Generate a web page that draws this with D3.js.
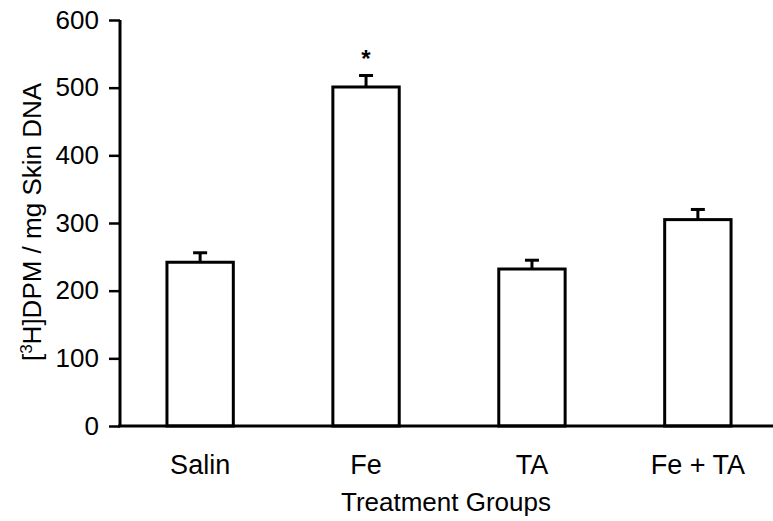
<!DOCTYPE html>
<html>
<head>
<meta charset="utf-8">
<script src="https://cdn.jsdelivr.net/npm/d3@7"></script>
<style>
  body { margin: 0; background: #fff; }
  text { font-family: "Liberation Sans", Arial, sans-serif; fill: #000; }
</style>
</head>
<body>
<svg id="chart" width="773" height="521"></svg>
<script>
// datos
const groups = ["Salin", "Fe", "TA", "Fe + TA"];
const means = [242, 501, 232, 305];
const errors = [14, 17, 13, 15];
const marks = ["", "*", "", ""];
const yTicks = [0, 100, 200, 300, 400, 500, 600];

const svg = d3.select("#chart");

const y = d3.scaleLinear().domain([0, 600]).range([426, 20]);
const x = d3.scaleBand().domain(groups).range([120, 778])
    .paddingInner(0.6).paddingOuter(0.283);

// barras
svg.append("g").selectAll("rect")
    .data(groups)
    .enter().append("rect")
    .attr("x", d => x(d))
    .attr("y", (d, i) => y(means[i]))
    .attr("width", x.bandwidth())
    .attr("height", (d, i) => y(0) - y(means[i]))
    .attr("fill", "#fff")
    .attr("stroke", "#000")
    .attr("stroke-width", 3);

// barras de error (solo hacia arriba)
const eb = svg.append("g").selectAll("g")
    .data(groups)
    .enter().append("g");
eb.append("line")
    .attr("x1", d => x(d) + x.bandwidth() / 2)
    .attr("x2", d => x(d) + x.bandwidth() / 2)
    .attr("y1", (d, i) => y(means[i]))
    .attr("y2", (d, i) => y(means[i] + errors[i]))
    .attr("stroke", "#000").attr("stroke-width", 3);
eb.append("line")
    .attr("x1", d => x(d) + x.bandwidth() / 2 - 7)
    .attr("x2", d => x(d) + x.bandwidth() / 2 + 7)
    .attr("y1", (d, i) => y(means[i] + errors[i]))
    .attr("y2", (d, i) => y(means[i] + errors[i]))
    .attr("stroke", "#000").attr("stroke-width", 3);

// asterisco
svg.append("g").selectAll("text")
    .data(groups)
    .enter().append("text")
    .attr("x", d => x(d) + x.bandwidth() / 2)
    .attr("y", (d, i) => y(means[i] + errors[i]) - 8)
    .attr("text-anchor", "middle")
    .attr("font-size", "24px")
    .attr("font-weight", "bold")
    .text((d, i) => marks[i]);

// eje Y
const yAxis = svg.append("g")
    .attr("transform", "translate(120,0)")
    .call(d3.axisLeft(y).tickValues(yTicks).tickSize(11).tickPadding(10));
yAxis.select(".domain").attr("stroke-width", 3).attr("d", `M0,${y(600)}V${y(0)}`);
yAxis.selectAll(".tick line").attr("stroke-width", 2.5);
yAxis.selectAll(".tick text")
    .attr("font-size", "26px")
    .style("font-family", "Liberation Sans, Arial, sans-serif");

// eje X
const xAxis = svg.append("g")
    .attr("transform", `translate(0,${y(0)})`)
    .call(d3.axisBottom(x).tickSize(0).tickPadding(29));
xAxis.select(".domain").attr("stroke-width", 3).attr("d", "M118,0H773");
xAxis.selectAll(".tick text")
    .attr("font-size", "27px")
    .style("font-family", "Liberation Sans, Arial, sans-serif");

// titulos de ejes
svg.append("text")
    .attr("x", 446).attr("y", 511)
    .attr("text-anchor", "middle")
    .attr("font-size", "26px")
    .text("Treatment Groups");

const yl = svg.append("text")
    .attr("transform", "translate(41,222) rotate(-90)")
    .attr("text-anchor", "middle")
    .attr("font-size", "26px");
yl.append("tspan").text("[");
yl.append("tspan").attr("font-size", "17px").attr("dy", -9).text("3");
yl.append("tspan").attr("dy", 9).text("H]DPM / mg Skin DNA");
</script>
</body>
</html>
